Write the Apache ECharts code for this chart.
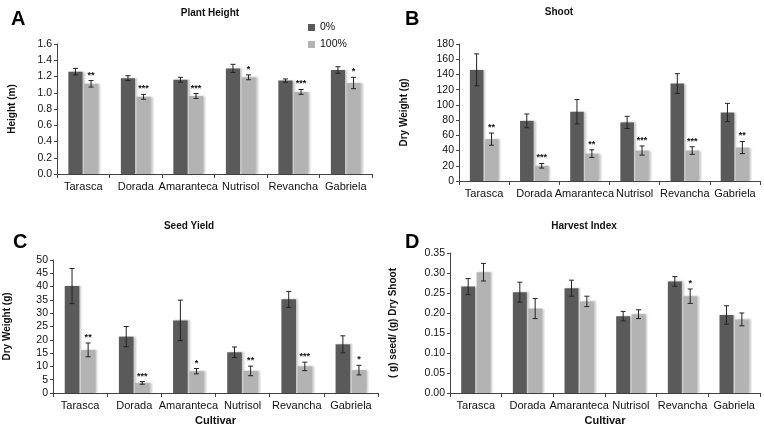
<!DOCTYPE html>
<html><head><meta charset="utf-8">
<script src="https://cdn.jsdelivr.net/npm/echarts@6/dist/echarts.min.js"></script>
<style>html,body{margin:0;padding:0;background:#fff}#c{width:764px;height:428px}</style>
</head><body><div id="c"></div>
<script>
const cultivars = ['Tarasca','Dorada','Amaranteca','Nutrisol','Revancha','Gabriela'];
const legendNames = ['0%','100%'];

// A: Plant Height (m)
const heightCtrl    = [1.26, 1.18, 1.16, 1.30, 1.15, 1.28];
const heightCtrlErr = [0.04, 0.03, 0.03, 0.05, 0.02, 0.04];
const heightTrt     = [1.11, 0.95, 0.96, 1.19, 1.01, 1.12];
const heightTrtErr  = [0.04, 0.03, 0.03, 0.03, 0.03, 0.07];
const heightSig     = ['**','***','***','*','***','*'];

// B: Shoot dry weight (g)
const shootCtrl    = [146, 79, 91, 77, 128, 90];
const shootCtrlErr = [21, 9, 16, 8, 13, 12];
const shootTrt     = [55, 20, 36, 40, 40, 44];
const shootTrtErr  = [8, 3, 5, 6, 5, 8];
const shootSig     = ['**','***','**','***','***','**'];

// C: Seed yield dry weight (g)
const seedCtrl    = [40.2, 21.2, 27.3, 15.3, 35.2, 18.3];
const seedCtrlErr = [6.6, 3.8, 7.6, 2.0, 3.0, 3.2];
const seedTrt     = [16.2, 3.8, 8.2, 8.3, 10.0, 8.6];
const seedTrtErr  = [2.6, 0.5, 1.0, 1.8, 1.6, 1.8];
const seedSig     = ['**','***','*','**','***','*'];

// D: Harvest index
const hiCtrl    = [0.266, 0.252, 0.262, 0.192, 0.279, 0.195];
const hiCtrlErr = [0.020, 0.025, 0.020, 0.012, 0.012, 0.023];
const hiTrt     = [0.302, 0.211, 0.229, 0.197, 0.242, 0.184];
const hiTrtErr  = [0.022, 0.025, 0.013, 0.011, 0.018, 0.016];
const hiSig     = ['','','','','*',''];

const DARK = '#5a5a5a', LIGHT = '#b3b3b3';
const FONT = 'Liberation Sans, Arial, sans-serif';
const BARW = 0.27, GAPR = 0.1;

const panels = [
  {grid:{left:57, right:392, top:44, bottom:254}, min:0, max:1.6, interval:0.2, dec:1,
   yName:'Height (m)', nameGap:40, xName:'', c:heightCtrl, ce:heightCtrlErr, t:heightTrt, te:heightTrtErr, sig:heightSig},
  {grid:{left:459, right:4, top:44, bottom:247}, min:0, max:180, interval:20, dec:0,
   yName:'Dry Weight (g)', nameGap:50, xName:'', c:shootCtrl, ce:shootCtrlErr, t:shootTrt, te:shootTrtErr, sig:shootSig},
  {grid:{left:53, right:386, top:260, bottom:35}, min:0, max:50, interval:5, dec:0,
   yName:'Dry Weight (g)', nameGap:41, xName:'Cultivar', c:seedCtrl, ce:seedCtrlErr, t:seedTrt, te:seedTrtErr, sig:seedSig},
  {grid:{left:450, right:4, top:253, bottom:35}, min:0, max:0.35, interval:0.05, dec:2,
   yName:'( g) seed/ (g) Dry Shoot', nameGap:52, xName:'Cultivar', c:hiCtrl, ce:hiCtrlErr, t:hiTrt, te:hiTrtErr, sig:hiSig}
];

const grids = [], xAxes = [], yAxes = [], series = [];
panels.forEach((p, i) => {
  grids.push(p.grid);
  xAxes.push({type:'category', gridIndex:i, data:cultivars,
    axisLine:{lineStyle:{color:'#444', width:1}},
    axisTick:{show:true, length:4, lineStyle:{color:'#444'}},
    axisLabel:{color:'#111', fontSize:11, fontFamily:FONT, margin:7, interval:0},
    name:p.xName, nameLocation:'middle', nameGap:22,
    nameTextStyle:{fontWeight:'bold', fontSize:11, color:'#111', fontFamily:FONT}});
  yAxes.push({type:'value', gridIndex:i, min:p.min, max:p.max, interval:p.interval,
    splitLine:{show:false},
    axisLine:{show:true, lineStyle:{color:'#444', width:1}},
    axisTick:{show:true, length:3, lineStyle:{color:'#444'}},
    axisLabel:{color:'#111', fontSize:10.5, fontFamily:FONT, margin:5,
      formatter: v => v.toFixed(p.dec)},
    name:p.yName, nameLocation:'middle', nameGap:p.nameGap,
    nameTextStyle:{fontWeight:'bold', fontSize:10, color:'#111', fontFamily:FONT}});
  const shadow = {shadowColor:'rgba(0,0,0,0.22)', shadowOffsetX:2, shadowOffsetY:0, shadowBlur:2};
  series.push({type:'bar', name:legendNames[0], xAxisIndex:i, yAxisIndex:i, data:p.c,
    barWidth:(BARW*100)+'%', barGap:(GAPR*100)+'%', itemStyle:Object.assign({color:DARK}, shadow)});
  series.push({type:'bar', name:legendNames[1], xAxisIndex:i, yAxisIndex:i, data:p.t,
    barWidth:(BARW*100)+'%', barGap:(GAPR*100)+'%', itemStyle:Object.assign({color:LIGHT}, shadow)});
  [[p.c, p.ce, null], [p.t, p.te, p.sig]].forEach((sd, s) => {
    const vals = sd[0], errs = sd[1], sig = sd[2];
    series.push({type:'custom', xAxisIndex:i, yAxisIndex:i, z:10, silent:true,
      data: vals.map((v, k) => [k, v, errs[k]]),
      renderItem: (params, api) => {
        const k = api.value(0), v = api.value(1), e = api.value(2);
        const band = api.size([1, 0])[0];
        const bw = band * BARW, gap = bw * GAPR, total = 2 * bw + gap;
        const cx = api.coord([k, v])[0] - total / 2 + bw / 2 + s * (bw + gap);
        const hi = api.coord([k, v + e])[1], lo = api.coord([k, v - e])[1];
        const st = {stroke:'#222', lineWidth:1};
        const ch = [
          {type:'line', shape:{x1:cx, y1:hi, x2:cx, y2:lo}, style:st},
          {type:'line', shape:{x1:cx - 2.5, y1:hi, x2:cx + 2.5, y2:hi}, style:st},
          {type:'line', shape:{x1:cx - 2.5, y1:lo, x2:cx + 2.5, y2:lo}, style:st}
        ];
        if (sig && sig[params.dataIndex]) {
          ch.push({type:'text', style:{text:sig[params.dataIndex], x:cx, y:hi - 1,
            align:'center', verticalAlign:'bottom', fontSize:9, fontWeight:'bold',
            fill:'#111', fontFamily:FONT}});
        }
        return {type:'group', children:ch};
      }});
  });
});

const titleStyle = {fontWeight:'bold', fontSize:10, color:'#111', fontFamily:FONT};
const letterStyle = {fontWeight:'bold', fontSize:20, color:'#000', fontFamily:FONT};
const option = {
  animation:false,
  backgroundColor:'#fff',
  title:[
    {text:'Plant Height', left:205, top:3, textAlign:'center', textStyle:titleStyle},
    {text:'Shoot', left:554, top:2, textAlign:'center', textStyle:titleStyle},
    {text:'Seed Yield', left:184, top:216, textAlign:'center', textStyle:titleStyle},
    {text:'Harvest Index', left:579, top:216, textAlign:'center', textStyle:titleStyle},
    {text:'A', left:6, top:4, textStyle:letterStyle},
    {text:'B', left:400, top:4, textStyle:letterStyle},
    {text:'C', left:8, top:227, textStyle:letterStyle},
    {text:'D', left:400, top:227, textStyle:letterStyle}
  ],
  legend:{data:legendNames, orient:'vertical', left:303, top:17, itemWidth:7, itemHeight:7,
    itemGap:6, icon:'rect', textStyle:{fontSize:10.5, color:'#111', fontFamily:FONT}},
  grid:grids, xAxis:xAxes, yAxis:yAxes, series:series
};
const chart = echarts.init(document.getElementById('c'), null, {renderer:'canvas'});
chart.setOption(option);
</script></body></html>
